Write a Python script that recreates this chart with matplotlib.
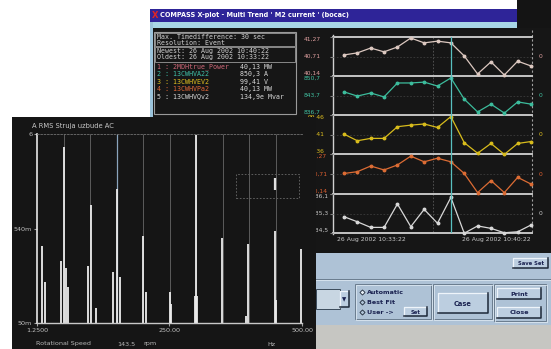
import matplotlib
matplotlib.use("Agg")
import matplotlib.pyplot as plt
from matplotlib.patches import Rectangle
import numpy as np

W, H = 551, 349

# --- multi trend data (one sample every 30 s, 10:33:22 .. 10:40:22) ---
t_sec = np.arange(0, 421, 30)
power = [40.75, 40.81, 40.95, 40.84, 40.98, 41.24, 41.10, 41.15, 41.10, 40.72, 40.20, 40.55, 40.17, 40.57, 40.43]
current = [845.0, 843.5, 844.6, 843.2, 848.2, 848.2, 848.5, 847.1, 850.0, 842.4, 837.8, 840.6, 837.4, 841.4, 840.6]
voltage = [99.411, 99.394, 99.400, 99.400, 99.430, 99.434, 99.437, 99.428, 99.456, 99.389, 99.362, 99.387, 99.359, 99.387, 99.392]
power2 = [40.72, 40.77, 40.93, 40.82, 40.96, 41.21, 41.05, 41.15, 41.05, 40.72, 40.18, 40.52, 40.18, 40.61, 40.42]
reactive = [135.17, 134.96, 134.73, 134.73, 135.69, 134.76, 135.47, 134.90, 135.96, 134.49, 134.79, 134.69, 134.51, 134.55, 134.83]
cursor_t = 240

strip_series = [power, current, voltage, power2, reactive]
strip_limits = [(40.14, 41.27), (836.7, 850.7), (99.36, 99.46), (40.14, 41.27), (134.5, 136.1)]
strip_ticklabels = [["40,14", "40,71", "41,27"], ["836,7", "843,7", "850,7"],
                    ["99,36", "99,41", "99,46"], ["40,14", "40,71", "41,27"],
                    ["134,5", "135,3", "136,1"]]
strip_colors = ["#dcc8c0", "#3cbc9c", "#d8bc1c", "#dc6c34", "#d8d8d8"]
label_colors = ["#e0a0a0", "#40c0a0", "#e0c020", "#e06030", "#c8c8c8"]
label_pads = [7, 7, 4, 2, 1]

legend_names = ["1 : 2MDHtrue_Power", "2 : 13CWHVA22", "3 : 13CWHVEV2", "4 : 13CWHVPa2", "5 : 13CWHVQv2"]
legend_values = ["40,13 MW", "850,3 A", "99,41 V", "40,13 MW", "134,9e Mvar"]
legend_colors = ["#d06878", "#40c0a8", "#e0c020", "#e06838", "#d8d8d8"]

# --- spectrum data ---
peak_freqs = [10, 16, 46, 52, 56, 60, 98, 102, 113, 144, 151, 157, 201, 206,
              251, 254, 298, 300, 303, 349, 395, 399, 449, 452, 498]
peak_amps = [0.35, 0.14, 0.24, 4.3, 0.2, 0.126, 0.21, 1.0, 0.074, 0.18, 1.5, 0.16, 0.45, 0.11,
             0.11, 0.08, 0.1, 5.8, 0.1, 0.43, 0.06, 0.37, 0.51, 0.09, 0.33]
grid_freqs = [51.125, 101.0, 150.875, 200.75, 250.625, 300.5, 350.375, 400.25, 450.125, 500.0]
cursor_freq = 150.875

fig = plt.figure(figsize=(W / 100, H / 100), dpi=100)
fig.patch.set_facecolor("white")


def px_axes(x0, y0, x1, y1, z):
    return fig.add_axes([x0 / W, 1 - y1 / H, (x1 - x0) / W, (y1 - y0) / H], zorder=z)


def overlay(z):
    ax = fig.add_axes([0, 0, 1, 1], zorder=z)
    ax.set_xlim(0, W)
    ax.set_ylim(H, 0)
    ax.axis("off")
    ax.patch.set_alpha(0)
    return ax


def rect(ax, x0, y0, x1, y1, fc, ec="none", lw=0.8, ls="-"):
    ax.add_patch(Rectangle((x0, y0), x1 - x0, y1 - y0, fc=fc, ec=ec, lw=lw, ls=ls))


def button(ax, x0, y0, x1, y1, label, fs=4.6):
    rect(ax, x0, y0, x1, y1, "#bccee0")
    ax.plot([x0, x0, x1], [y1, y0, y0], color="#eef4fa", lw=0.9)
    ax.plot([x0, x1, x1], [y1, y1, y0], color="#1c2838", lw=1.1)
    ax.text((x0 + x1) / 2, (y0 + y1) / 2 + 0.5, label, ha="center", va="center",
            fontsize=fs, fontweight="bold", color="#1a2250")


def groove(ax, x0, y0, x1, y1):
    ax.add_patch(Rectangle((x0, y0), x1 - x0, y1 - y0, fc="none", ec="#6a7c8e", lw=0.7))
    ax.add_patch(Rectangle((x0 + 1, y0 + 1), x1 - x0, y1 - y0, fc="none", ec="#e4eef6", lw=0.5))


# ---------------- trend window ----------------
bg = overlay(0)
rect(bg, 517, 0, 551, 253, "#141414")
rect(bg, 150, 28, 551, 253, "#161616")
rect(bg, 150, 9, 517, 22, "#2e2498")
rect(bg, 150, 22, 517, 28, "#a8d6e6")
rect(bg, 150, 22, 153, 253, "#9cc4dc")
bg.text(152, 15.5, "X", color="#e02424", fontsize=6, fontweight="bold", va="center")
bg.text(160, 15.5, "COMPASS X-plot - Multi Trend ' M2 current ' (bocac)", color="white",
        fontsize=4.7, fontweight="bold", va="center")

# legend panel
rect(bg, 154, 32, 296, 114, "none", ec="#9a9a9a", lw=0.8)
rect(bg, 155, 33, 295, 46, "none", ec="#9a9a9a", lw=0.6)
rect(bg, 155, 47, 295, 62, "none", ec="#9a9a9a", lw=0.6)
mono = dict(family="DejaVu Sans Mono", fontsize=4.8, va="center")
bg.text(157, 37, "Max. Timedifference: 30 sec", color="#d0d0d0", **mono)
bg.text(157, 43, "Resolution: Event", color="#d0d0d0", **mono)
bg.text(157, 51, "Newest: 26 Aug 2002 10:40:22", color="#d0d0d0", **mono)
bg.text(157, 57.5, "Oldest: 26 Aug 2002 10:33:22", color="#d0d0d0", **mono)
for i, (name, val, col) in enumerate(zip(legend_names, legend_values, legend_colors)):
    y = 67 + 7.4 * i
    bg.text(157, y, name, color=col, **mono)
    bg.text(240, y, val, color="#d8d8d8", **mono)

# plot frame, strip separators and cursor
strip_edges = [37, 76, 115, 154, 194, 233]
px_left, px_right = 333, 532
bg.plot([px_left, px_left], [35, 234], color="#d0d0d0", lw=1.0)
bg.plot([px_right, px_right], [30, 234], color="#a0a0a0", lw=0.8, ls=(0, (2, 2)))
bg.plot([433, 433], [37, 233], color="#5a5a5a", lw=0.6, ls=(0, (2, 2)))
for y in strip_edges:
    bg.plot([px_left, px_right], [y, y], color="#c4c4c4", lw=1.4)
for a, b in zip(strip_edges[:-1], strip_edges[1:]):
    bg.plot([px_left, px_right], [(a + b) / 2] * 2, color="#3c3c3c", lw=0.6, ls=(0, (2, 2)))

x_lo = -0.82 * 30
x_hi = 14.07 * 30
for k in range(5):
    ax = px_axes(px_left, strip_edges[k], px_right, strip_edges[k + 1], 1)
    ax.patch.set_alpha(0)
    lo, hi = strip_limits[k]
    ax.set_xlim(x_lo, x_hi)
    ax.set_ylim(lo, hi)
    ax.plot(t_sec, strip_series[k], color=strip_colors[k], lw=0.9, marker="o",
            markersize=1.8, clip_on=False)
    ax.axvline(cursor_t, color="#58c0c0", lw=0.9)
    ax.set_xticks([])
    ax.set_yticks([lo, (lo + hi) / 2, hi], strip_ticklabels[k])
    ax.tick_params(axis="y", length=2, color="#808080", pad=label_pads[k], labelsize=4.3,
                   labelcolor=label_colors[k])
    for lbl, va in zip(ax.get_yticklabels(), ["bottom", "center", "top"]):
        lbl.set_va(va)
    for s in ax.spines.values():
        s.set_visible(False)
    bg.text(539, (strip_edges[k] + strip_edges[k + 1]) / 2, "0", color=label_colors[k],
            fontsize=4.3, va="center")

bg.text(337, 240, "26 Aug 2002 10:33:22", color="#c8c8c8", fontsize=4.4, va="center")
bg.text(531, 240, "26 Aug 2002 10:40:22", color="#c8c8c8", fontsize=4.4, va="center", ha="right")

# lower control panel
rect(bg, 300, 253, 551, 325, "#aec2d6")
rect(bg, 300, 325, 551, 349, "#c6c6c2")
bg.plot([300, 551], [279, 279], color="#6a7c8e", lw=0.7)
bg.plot([300, 551], [280, 280], color="#e4eef6", lw=0.5)
button(bg, 513, 258, 548, 268, "Save Set", fs=3.8)
rect(bg, 316, 289, 340, 309, "#c8d6e2", ec="#3a4a5a", lw=0.7)
button(bg, 340, 291, 349, 307, "▼", fs=4)
groove(bg, 355, 284, 431, 319)
for j, (txt, y) in enumerate([("Automatic", 292), ("Best Fit", 302), ("User ->", 312)]):
    bg.plot([362], [y], marker="D", markersize=2.6, mfc="#e8f0f8" if j == 0 else "#aec2d6",
            mec="#1c2838", mew=0.6)
    bg.text(367, y, txt, color="#1a2250", fontsize=4.6, fontweight="bold", va="center")
button(bg, 404, 307, 427, 316, "Set", fs=3.8)
groove(bg, 433, 284, 492, 319)
button(bg, 438, 293, 488, 313, "Case", fs=4.8)
groove(bg, 494, 284, 546, 321)
button(bg, 497, 288, 541, 299, "Print", fs=4.6)
button(bg, 497, 307, 541, 318, "Close", fs=4.6)

# ---------------- spectrum window ----------------
sp = overlay(2)
rect(sp, 12, 117, 316, 349, "#151515")
sp.text(32, 126, "A RMS Struja uzbude AC", color="#c8c8c8", fontsize=4.9, va="center")
sp.text(36, 344, "Rotational Speed", color="#b8b8b8", fontsize=4.6, va="center")
sp.text(117, 344, "143.5", color="#b8b8b8", fontsize=4.6, va="center")
sp.text(143, 344, "rpm", color="#b8b8b8", fontsize=4.6, va="center")
sp.text(267, 344, "Hz", color="#b8b8b8", fontsize=4.6, va="center")

ax = px_axes(37, 134, 302, 323, 3)
ax.patch.set_alpha(0)
ax.set_yscale("log")
ax.set_xlim(1.25, 500)
ax.set_ylim(0.05, 6)
ax.vlines(grid_freqs, 0.05, 6, color="#5c5c5c", lw=0.7)
ax.vlines([cursor_freq], 0.05, 6, color="#8aa4bc", lw=0.9)
ax.vlines(peak_freqs, 0.05, peak_amps, color="#ececec", lw=1.3)
# cursor marker band
ax.add_patch(Rectangle((375, 1.2), 120, 1.0, fc="none", ec="#6a6a6a", lw=0.6, ls=(0, (2, 2))))
ax.vlines([449], 1.45, 1.95, color="#e0e0e0", lw=1.6)
ax.set_yticks([0.05, 0.54, 6], ["50m", "540m", "6"])
ax.yaxis.set_minor_locator(matplotlib.ticker.NullLocator())
ax.set_xticks([1.25, 250, 500], ["1.2500", "250.00", "500.00"])
ax.tick_params(length=2, color="#a0a0a0", labelsize=4.6, labelcolor="#c0c0c0", pad=1.5)
ax.spines["left"].set_color("#e8e8e8")
ax.spines["left"].set_linewidth(1.2)
ax.spines["bottom"].set_color("#c8c8c8")
ax.spines["bottom"].set_linewidth(1.0)
ax.spines["top"].set_color("#707070")
ax.spines["top"].set_linestyle((0, (2, 2)))
ax.spines["top"].set_linewidth(0.6)
ax.spines["right"].set_visible(False)

fig.savefig("out.png", dpi=100, facecolor=fig.get_facecolor())
